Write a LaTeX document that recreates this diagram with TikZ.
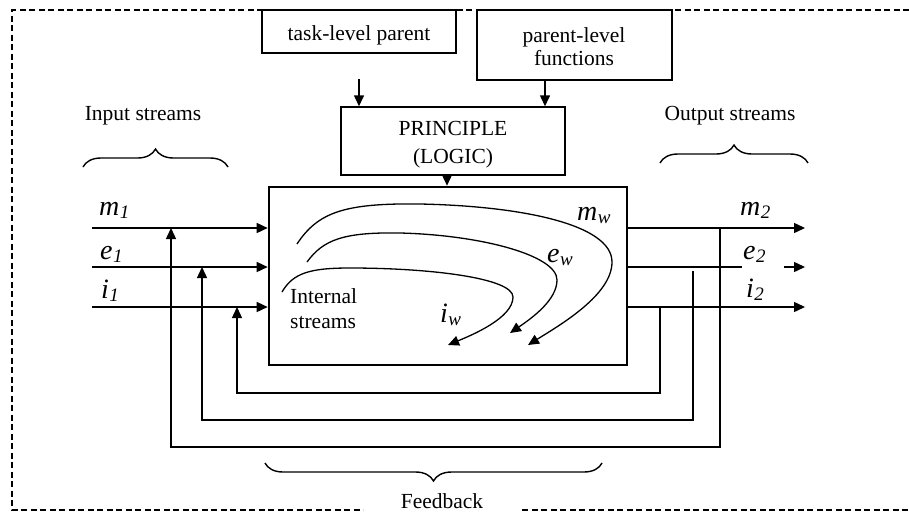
\documentclass[tikz,border=0pt]{standalone}
\usepackage{fontspec}
\setmainfont{Liberation Serif}
\usetikzlibrary{arrows.meta,decorations.pathreplacing}

% stream symbol with a lowered italic index
\newcommand\streamsym[2]{{\fontsize{28}{28}\selectfont\textit{#1}\kern0.5pt\raisebox{-3pt}{\fontsize{19}{19}\selectfont\textit{#2}}}}

\begin{document}
\begin{tikzpicture}[x=1pt,y=-1pt,
  every node/.style={font=\fontsize{21.5}{25}\selectfont},
  box/.style={draw, line width=1.4pt, inner sep=0pt, align=center},
  mainbox/.style={draw, line width=2.6pt, inner sep=0pt},
  arr/.style={line width=1.4pt, -{Triangle[length=11pt,width=10pt]}},
  ln/.style={line width=1.4pt},
  flow/.style={line width=1.3pt, -{Triangle[length=11pt,width=10pt]}},
  frame/.style={line width=1.2pt, dash pattern=on 6pt off 3.5pt},
  curly/.style={line width=1.4pt, decorate, decoration={brace, amplitude=#1}},
  lbl/.style={anchor=base, inner sep=0pt}
]
\useasboundingbox (0,0) rectangle (909,512);

% dashed system boundary (open on the right)
\draw[frame] (909,10) -- (12,10) -- (12,510) -- (363,510);
\draw[frame] (522,510) -- (909,510);

% upper boxes
\node[box, minimum width=194pt, minimum height=43pt] (task) at (359,31.5) {};
\node[lbl] at (359,40) {task-level parent};
\node[box, minimum width=195pt, minimum height=70pt] (parent) at (574.5,45) {};
\node[lbl] at (574,42) {parent-level};
\node[lbl] at (574,65) {functions};
\node[box, minimum width=224pt, minimum height=68pt] (logic) at (453,141) {};
\node[lbl] at (453,135) {PRINCIPLE};
\node[lbl] at (453,163) {(LOGIC)};

% process block
\node[mainbox, minimum width=358pt, minimum height=178pt] (main) at (448,276) {};

% control arrows into the logic and the block
\coordinate (tp) at (359,79);
\draw[arr] (tp) -- (tp |- logic.north);
\coordinate (pp) at (545,80);
\draw[arr] (pp) -- (pp |- logic.north);
\coordinate (lp) at (447,175);
\draw[arr] (lp) -- (lp |- main.north);

% stream group labels and braces
\node[lbl] (inlbl) at (143,120) {Input streams};
\node[lbl] (outlbl) at (730,120) {Output streams};
\draw[curly=18pt] (83,167) -- (228,167);
\draw[curly=18pt] (660,163) -- (808,163);

% input streams
\coordinate (i1) at (92,228);
\coordinate (i2) at (92,267);
\coordinate (i3) at (92,307);
\draw[arr] (i1) -- (i1 -| main.west);
\draw[arr] (i2) -- (i2 -| main.west);
\draw[arr] (i3) -- (i3 -| main.west);
\node[lbl, anchor=base west] at (99,215) {\streamsym{m}{1}};
\node[lbl, anchor=base west] at (100,259) {\streamsym{e}{1}};
\node[lbl, anchor=base west] at (101,298) {\streamsym{i}{1}};

% output streams
\coordinate (o1) at (805,228);
\coordinate (o2a) at (742,267);
\coordinate (o2b) at (784,267);
\coordinate (o2) at (805,267);
\coordinate (o3) at (805,307);
\draw[arr] (main.east |- o1) -- (o1);
\draw[ln] (main.east |- o2a) -- (o2a);
\draw[arr] (o2b) -- (o2);
\draw[arr] (main.east |- o3) -- (o3);
\node[lbl, anchor=base west] at (740,215) {\streamsym{m}{2}};
\node[lbl, anchor=base west] at (743,259) {\streamsym{e}{2}};
\node[lbl, anchor=base west] at (746,297) {\streamsym{i}{2}};

% feedback loops
\coordinate (fa) at (720,228);
\coordinate (fb) at (693,271);
\coordinate (fc) at (660,307);
\draw[arr] (fa) -- (720,447) -- (171,447) -- (171,228);
\draw[arr] (fb) -- (693,420) -- (202,420) -- (202,267);
\draw[arr] (fc) -- (660,393) -- (237,393) -- (237,307);
\draw[curly=18pt] (602,463) -- (265,463);
\node[lbl] (fblbl) at (442,508) {Feedback};

% internal streams
\draw[flow] (297,244) .. controls (318,212) and (345,203) .. (420,204)
  .. controls (520,206) and (612,224) .. (612,262)
  .. controls (612,295) and (560,325) .. (528,345);
\draw[flow] (307,262) .. controls (323,240) and (343,232) .. (400,233)
  .. controls (480,235) and (557,255) .. (557,280)
  .. controls (557,300) and (532,318) .. (510,333);
\draw[flow] (282,292) .. controls (293,273) and (310,268) .. (350,268)
  .. controls (430,268) and (513,278) .. (513,297)
  .. controls (513,318) and (472,335) .. (448,345);
\node[lbl, anchor=base west] at (290,303) {Internal};
\node[lbl, anchor=base west] at (290,328) {streams};
\node[lbl, anchor=base west] at (577,220) {\streamsym{m}{w}};
\node[lbl, anchor=base west] at (547,262) {\streamsym{e}{w}};
\node[lbl, anchor=base west] at (440,322) {\streamsym{i}{w}};
\end{tikzpicture}
\end{document}
